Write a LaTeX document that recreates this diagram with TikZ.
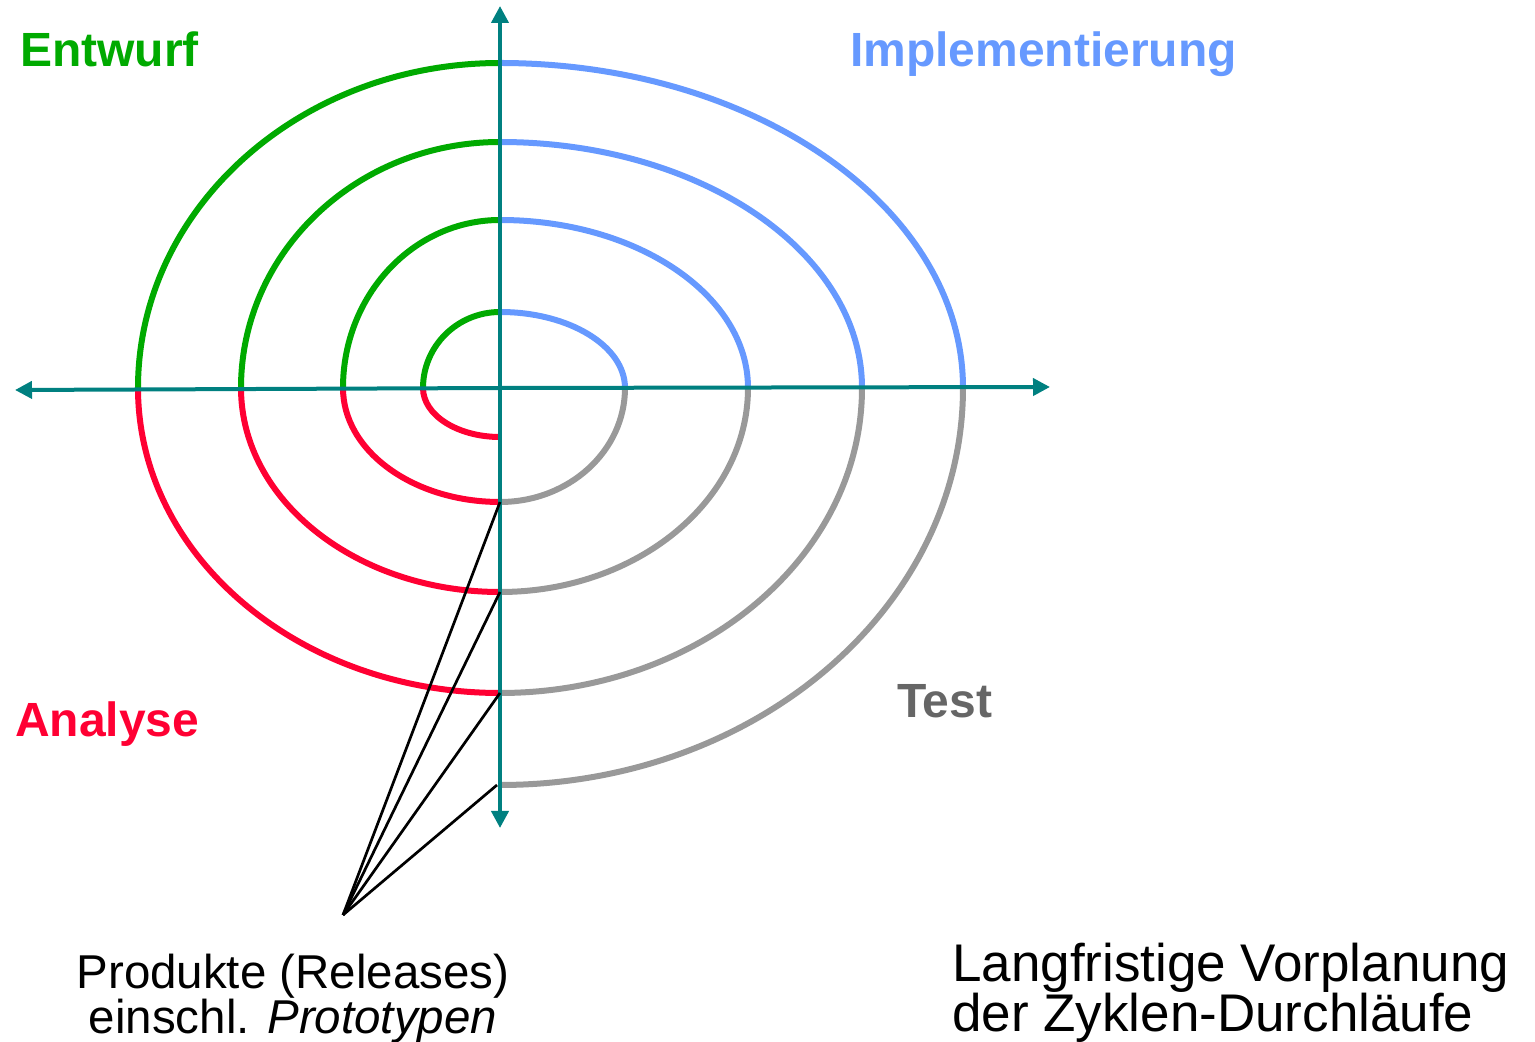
\documentclass[tikz,border=0pt]{standalone}
\usepackage{fontspec}
\setmainfont{Liberation Sans}
\usetikzlibrary{arrows.meta}

\definecolor{entwurfgreen}{HTML}{00AA00}
\definecolor{implblue}{HTML}{6699FF}
\definecolor{testgray}{HTML}{999999}
\definecolor{testtext}{HTML}{666666}
\definecolor{analysered}{HTML}{FF0033}
\definecolor{axisteal}{HTML}{008080}

\tikzset{
    analyse/.style={analysered, line width=6pt},
    entwurf/.style={entwurfgreen, line width=6pt},
    impl/.style={implblue, line width=6pt},
    testarc/.style={testgray, line width=6pt},
    axis/.style={axisteal, line width=4pt, -{Triangle[length=17pt,width=17pt]}},
    release/.style={black, line width=2.7pt},
    phase/.style={inner sep=0pt, anchor=base west, font=\fontsize{48}{48}\selectfont\bfseries}
}

\begin{document}
\begin{tikzpicture}[x=1pt, y=1pt]
        \useasboundingbox (0, 0) rectangle (1535, 1042);
        \coordinate (O) at (500, 654);
        % spiral, one turn per line
        \foreach \a/\b/\c/\d/\e in {77/49/76/125/114, 157/114/168/248/204,
                                    259/204/246/362/305, 362/305/325/463/397} {
            \draw[analyse] (O) ++(0, -\b) arc[start angle=270, end angle=180, x radius=\a pt, y radius=\b pt];
            \draw[entwurf] (O) ++(-\a, 0) arc[start angle=180, end angle=90, x radius=\a pt, y radius=\c pt];
            \draw[impl] (O) ++(0, \c) arc[start angle=90, end angle=0, x radius=\d pt, y radius=\c pt];
            \draw[testarc] (O) ++(\d, 0) arc[start angle=0, end angle=-90, x radius=\d pt, y radius=\e pt];
        }
        % axes
        \coordinate (xl) at (15, 652);
        \coordinate (xr) at (1050, 655);
        \coordinate (yt) at (500, 1036);
        \coordinate (yb) at (500, 214);
        \draw[axis] (O) -- (xl);
        \draw[axis] (O) -- (xr);
        \draw[axis] (O) -- (yt);
        \draw[axis] (O) -- (yb);
        % phases
        \node[phase, entwurfgreen] (entwurf) at (20, 975) {Entwurf};
        \node[phase, implblue] (impl) at (850, 975) {Implementierung};
        \node[phase, testtext] (test) at (897, 324) {Test};
        \node[phase, analysered] (analyse) at (15, 305) {Analyse};
        % releases
        \coordinate (fan) at (343, 127);
        \coordinate (r1) at (500, 540);
        \coordinate (r2) at (500, 450);
        \coordinate (r3) at (500, 349);
        \coordinate (r4) at (497, 257);
        \foreach \r in {r1, r2, r3, r4}
            \draw[release] (fan) -- (\r);
        \node[inner sep=0pt, anchor=base, align=center, font=\fontsize{47.5}{43}\selectfont]
            (produkte) at (293, 8) {Produkte (Releases)\\einschl. \textit{Prototypen}};
        \node[inner sep=0pt, anchor=base west, align=left, font=\fontsize{53}{50}\selectfont]
            (planung) at (952, 10) {Langfristige Vorplanung\\der Zyklen-Durchläufe};
    \end{tikzpicture}
\end{document}
